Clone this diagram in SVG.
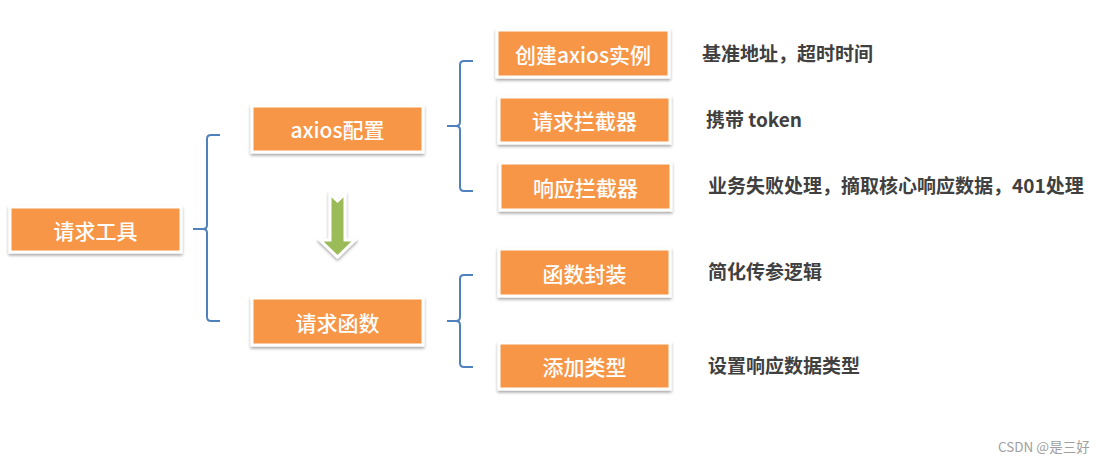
<svg xmlns="http://www.w3.org/2000/svg" width="1111" height="463" viewBox="0 0 1111 463">
  <defs>
    <filter id="sh" x="-10%" y="-20%" width="120%" height="150%">
      <feDropShadow dx="0" dy="2" stdDeviation="1.5" flood-color="#000" flood-opacity="0.35"/>
    </filter>
  </defs>
  <style>
    .box { fill: #F79646; stroke: #FFFFFF; stroke-width: 3; filter: url(#sh); }
    .bt { font-family: "Noto Sans CJK SC", "Liberation Sans", sans-serif; font-size: 21px; font-weight: 500; fill: #FFFFFF; text-anchor: middle; dominant-baseline: central; }
    .note { font-family: "Noto Sans CJK SC", "Liberation Sans", sans-serif; font-size: 19px; font-weight: bold; fill: #404040; }
    .br { fill: none; stroke: #4F81BD; stroke-width: 2; }
    .wm { font-family: "Noto Sans CJK SC", "Liberation Sans", sans-serif; font-size: 13.5px; fill: #A0A0A0; }
  </style>
  <rect width="1111" height="463" fill="#FFFFFF"/>

  <g id="connectors">
    <path class="br" d="M220,135 H211 Q207,135 207,139 V225 Q207,229 203,229 H193 M203,229 Q207,229 207,233 V317 Q207,321 211,321 H220"/>
    <path class="br" d="M473,61 H464 Q460,61 460,65 V122 Q460,126 456,126 H447 M456,126 Q460,126 460,130 V187 Q460,191 464,191 H473"/>
    <path class="br" d="M473,275 H464 Q460,275 460,279 V317 Q460,321 456,321 H447 M456,321 Q460,321 460,325 V363 Q460,367 464,367 H473"/>
    <polygon id="flow-arrow" points="330,194 337.5,201 345,194 345,240 355,240 337.5,257 320,240 330,240" fill="#9BBB59" stroke="#FFFFFF" stroke-width="3" stroke-linejoin="miter" filter="url(#sh)"/>
  </g>

  <g id="node-tool">
    <rect class="box" x="10" y="207" width="171" height="45"/>
    <text class="bt" x="95.5" y="229.5">请求工具</text>
  </g>
  <g id="node-axios-config">
    <rect class="box" x="252" y="106" width="171" height="46"/>
    <text class="bt" x="337.5" y="129">axios配置</text>
  </g>
  <g id="node-request-fn">
    <rect class="box" x="252" y="298" width="171" height="47"/>
    <text class="bt" x="337.5" y="321.5">请求函数</text>
  </g>
  <g id="node-create">
    <rect class="box" x="497" y="30" width="172" height="47"/>
    <text class="bt" x="583" y="53.5">创建axios实例</text>
  </g>
  <g id="node-req-interceptor">
    <rect class="box" x="499" y="97" width="171" height="46"/>
    <text class="bt" x="584.5" y="120">请求拦截器</text>
  </g>
  <g id="node-res-interceptor">
    <rect class="box" x="500" y="163" width="171" height="47"/>
    <text class="bt" x="585.5" y="186.5">响应拦截器</text>
  </g>
  <g id="node-wrap">
    <rect class="box" x="499" y="249" width="171" height="47"/>
    <text class="bt" x="584.5" y="272.5">函数封装</text>
  </g>
  <g id="node-types">
    <rect class="box" x="499" y="343" width="171" height="46"/>
    <text class="bt" x="584.5" y="366">添加类型</text>
  </g>

  <g id="notes">
    <text class="note" x="702" y="61">基准地址，超时时间</text>
    <text class="note" x="706" y="127">携带 token</text>
    <text class="note" x="708" y="193">业务失败处理，摘取核心响应数据，401处理</text>
    <text class="note" x="708" y="279">简化传参逻辑</text>
    <text class="note" x="708" y="373">设置响应数据类型</text>
  </g>

  <text class="wm" x="998" y="452">CSDN @是三好</text>
</svg>
